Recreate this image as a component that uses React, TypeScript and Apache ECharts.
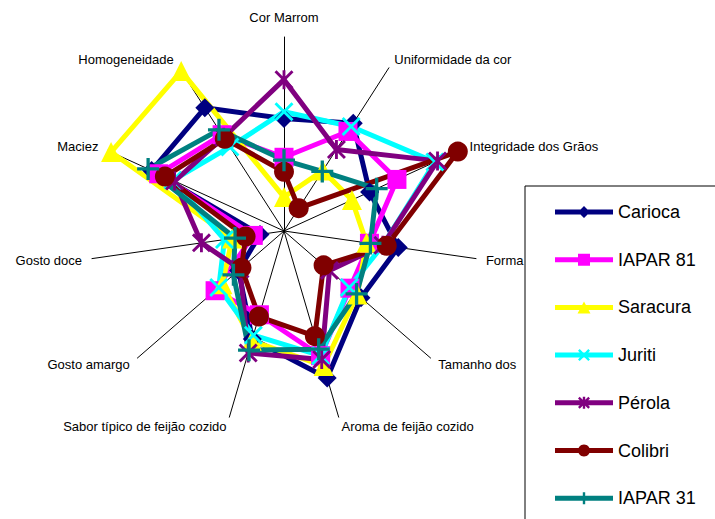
import React, { useEffect, useRef } from "react";
import * as echarts from "echarts";

// Axes, clockwise from the top
const categories = [
  "Cor Marrom",
  "Uniformidade da cor",
  "Integridade dos Grãos",
  "Forma",
  "Tamanho dos",
  "Aroma de feijão cozido",
  "Sabor típico de feijão cozido",
  "Gosto amargo",
  "Gosto doce",
  "Maciez",
  "Homogeneidade",
];

const seriesNames = ["Carioca", "IAPAR 81", "Saracura", "Juriti", "Pérola", "Colibri", "IAPAR 31"];

const carioca = [5.8, 6.6, 4.85, 5.95, 5.25, 7.9, 5.8, 3.1, 1.25, 7.5, 7.55];
const iapar81 = [3.8, 6.1, 6.4, 4.45, 4.5, 6.7, 4.5, 4.7, 1.6, 7.1, 5.9];
const saracura = [1.75, 3.7, 3.85, 4.3, 5.0, 7.25, 5.9, 4.2, 2.7, 9.8, 9.8];
const juriti = [6.15, 6.4, 8.55, 5.15, 4.45, 6.7, 5.6, 4.45, 3.1, 6.3, 5.15];
const perola = [7.8, 5.0, 8.7, 5.15, 3.1, 6.9, 6.55, 3.0, 4.3, 6.2, 5.75];
const colibri = [3.05, 1.4, 9.85, 5.35, 2.7, 5.65, 4.6, 2.9, 2.0, 6.75, 5.65];
const iapar31 = [3.65, 3.65, 5.25, 4.5, 4.95, 6.35, 6.4, 3.45, 2.55, 7.7, 6.2];

const axisMax = 10;

const seriesValues = [carioca, iapar81, saracura, juriti, perola, colibri, iapar31];
const colors = ["#000080", "#FF00FF", "#FFFF00", "#00FFFF", "#800080", "#800000", "#008080"];
const markerKinds = ["diamond", "square", "triangle", "x", "star", "circle", "plus"];

type Pt = [number, number];

function poly(points: Pt[]): string {
  return "M" + points.map((p) => p[0].toFixed(2) + "," + p[1].toFixed(2)).join("L") + "Z";
}
function plusPts(L: number, t: number): Pt[] {
  return [
    [t, -L], [t, -t], [L, -t], [L, t], [t, t], [t, L],
    [-t, L], [-t, t], [-L, t], [-L, -t], [-t, -t], [-t, -L],
  ];
}
function rot45(pts: Pt[]): Pt[] {
  const s = Math.SQRT1_2;
  return pts.map(([x, y]) => [(x - y) * s, (x + y) * s] as Pt);
}
function circlePts(r: number, n: number): Pt[] {
  const out: Pt[] = [];
  for (let i = 0; i < n; i++) {
    const a = (i / n) * Math.PI * 2;
    out.push([r * Math.cos(a), r * Math.sin(a)]);
  }
  return out;
}

function markerPath(kind: string, half: number, t: number): string {
  switch (kind) {
    case "diamond":
      return poly([[0, -half], [half, 0], [0, half], [-half, 0]]);
    case "square":
      return poly([[-half, -half], [half, -half], [half, half], [-half, half]]);
    case "triangle":
      return poly([[0, -half], [half * 1.08, half], [-half * 1.08, half]]);
    case "circle":
      return poly(circlePts(half, 28));
    case "plus":
      return poly(plusPts(half, t));
    case "x": {
      const L = half * Math.SQRT2 - t;
      return poly(rot45(plusPts(L, t)));
    }
    case "star": {
      const L = half * Math.SQRT2 - t;
      return poly(rot45(plusPts(L, t))) + poly([[-t, -half], [t, -half], [t, half], [-t, half]]);
    }
  }
  return "";
}

function seriesSymbol(kind: string): string {
  if (kind === "diamond") return "diamond";
  if (kind === "square") return "rect";
  if (kind === "triangle") return "triangle";
  if (kind === "circle") return "circle";
  return "path://" + markerPath(kind, 10, 1.5);
}
const symbolSizes: Record<string, number> = {
  diamond: 19, square: 19, triangle: 20, circle: 20, x: 19, star: 19, plus: 22,
};

function legendIcon(kind: string): string {
  const w = 58, h = 12;
  const line = poly([[0, 3.5], [w, 3.5], [w, 8.5], [0, 8.5]]);
  const m = markerPath(kind, 6, 1.2);
  const shifted = m.replace(/(-?\d+\.\d+),(-?\d+\.\d+)/g, (_s, a, b) =>
    (parseFloat(a) + w / 2).toFixed(2) + "," + (parseFloat(b) + h / 2).toFixed(2)
  );
  return "path://" + line + shifted;
}

// ECharts lays radar indicators counter-clockwise; reorder to draw clockwise.
const order = [0, 10, 9, 8, 7, 6, 5, 4, 3, 2, 1];

const font = "'Liberation Sans', Arial, Helvetica, sans-serif";

export default function App() {
  const ref = useRef<HTMLDivElement>(null);
  useEffect(() => {
    if (!ref.current) return;
    const chart = echarts.init(ref.current, null, { renderer: "svg" });
    const option: any = {
      animation: false,
      backgroundColor: "#ffffff",
      radar: {
        center: [284, 231],
        radius: 194,
        startAngle: 90,
        shape: "polygon",
        nameGap: 10,
        splitNumber: 1,
        splitLine: { show: false },
        splitArea: { show: false },
        axisTick: { show: false },
        axisLabel: { show: false },
        axisLine: { show: true, lineStyle: { color: "#000", width: 1 } },
        axisName: {
          color: "#000",
          fontSize: 13,
          fontFamily: font,
          formatter: (name: string) => (name === categories[0] ? "{top|" + name + "}" : name),
          rich: {
            top: { fontSize: 13, fontFamily: font, color: "#000", padding: [0, 0, 3, 0] },
          },
        },
        indicator: order.map((i) => ({ name: categories[i], min: 0, max: axisMax })),
      },
      legend: {
        orient: "vertical",
        left: 525,
        top: 186,
        width: 150,
        height: 330,
        padding: [17, 60, 60, 30],
        itemWidth: 58,
        itemHeight: 12,
        itemGap: 29.7,
        backgroundColor: "#ffffff",
        borderColor: "#000",
        borderWidth: 1,
        borderRadius: 0,
        selectedMode: false,
        textStyle: { fontSize: 18, fontFamily: font, color: "#000", lineHeight: 16 },
        data: seriesNames.map((n, i) => ({ name: n, icon: legendIcon(markerKinds[i]) })),
      },
      series: seriesNames.map((n, i) => ({
        type: "radar",
        name: n,
        silent: true,
        symbol: seriesSymbol(markerKinds[i]),
        symbolSize: symbolSizes[markerKinds[i]],
        itemStyle: { color: colors[i], borderWidth: 0 },
        lineStyle: { color: colors[i], width: 5 },
        data: [{ name: n, value: order.map((k) => seriesValues[i][k]) }],
      })),
    };
    chart.setOption(option);
    return () => chart.dispose();
  }, []);
  return (
    <div
      ref={ref}
      style={{ position: "fixed", left: 0, top: 0, width: 715, height: 519, background: "#fff" }}
    />
  );
}
